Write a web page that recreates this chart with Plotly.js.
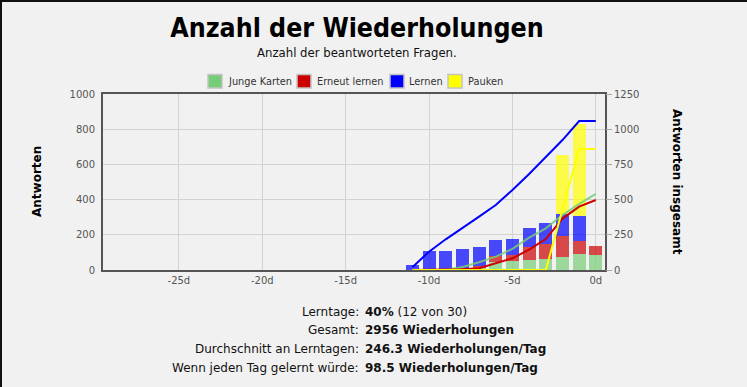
<!DOCTYPE html>
<html>
<head>
<meta charset="utf-8">
<script src="https://cdn.plot.ly/plotly-3.0.1.min.js"></script>
<style>
  html, body { margin: 0; padding: 0; background: #f1f1f1; }
  #wrap { position: relative; width: 747px; height: 387px; }
  #chart { width: 747px; height: 387px; }
  #frame { position: absolute; left: 0; top: 0; width: 747px; height: 387px; box-sizing: border-box;
           border-left: 2px solid #111; border-top: 2px solid #111; pointer-events: none; }
</style>
</head>
<body>
<div id="wrap"><div id="chart"></div><div id="frame"></div></div>
<script>
// ---- data ----
const days = [-11, -10, -9, -8, -7, -6, -5, -4, -3, -2, -1, 0];
const jungeKarten   = [0, 0, 0, 8, 12, 47, 52, 57, 64, 72, 93, 87];
const erneutLernen  = [0, 0, 0, 5, 8, 34, 34, 75, 82, 121, 72, 48];
const lernen        = [28, 110, 108, 106, 109, 89, 89, 108, 123, 123, 144, 0];
const pauken        = [0, 0, 0, 0, 0, 0, 0, 0, 0, 337, 521, 0];
// cumulative totals (right axis)
const cumJunge   = [0, 0, 0, 22, 55, 95, 150, 230, 296, 390, 469, 540];
const cumErneut  = [0, 0, 0, 5, 13, 47, 83, 145, 220, 365, 450, 497];
const cumLernen  = [20, 130, 218, 296, 379, 462, 568, 682, 800, 923, 1058, 1058];
const cumPauken  = [0, 0, 0, 0, 0, 0, 0, 0, 0, 430, 859, 859];

const seriesNames = ['Junge Karten', 'Erneut lernen', 'Lernen', 'Pauken'];
const xTickVals = [-25, -20, -15, -10, -5, 0];
const xTickText = ['-25d', '-20d', '-15d', '-10d', '-5d', '0d'];
const yTickVals = [0, 200, 400, 600, 800, 1000];
const y2TickVals = [0, 250, 500, 750, 1000, 1250];

const statLabels = ['Lerntage:', 'Gesamt:', 'Durchschnitt an Lerntagen:', 'Wenn jeden Tag gelernt würde:'];
const statValues = ['<b>40%</b> (12 von 30)', '<b>2956 Wiederholungen</b>',
                    '<b>246.3 Wiederholungen/Tag</b>', '<b>98.5 Wiederholungen/Tag</b>'];

// ---- styling ----
const solid = ['#77cc77', '#cc0000', '#0000ff', '#ffff00'];
const barFill = ['rgba(119,204,119,0.7)', 'rgba(204,0,0,0.7)', 'rgba(0,0,255,0.7)', 'rgba(255,255,0,0.7)'];
const lineCol = ['rgba(119,204,119,0.85)', '#cc0000', '#0000ff', '#ffff00'];
const barSeries = [jungeKarten, erneutLernen, lernen, pauken];
const cumSeries = [cumJunge, cumErneut, cumLernen, cumPauken];

const FONT = 'DejaVu Sans, sans-serif';
const COND = 'DejaVu Sans Condensed, DejaVu Sans, sans-serif';
const L = 103, PW = 502, B = 270, PH = 176;
const px = v => (v - L) / PW;
const py = v => (B - v) / PH;

const traces = [];
barSeries.forEach((vals, i) => {
  traces.push({
    type: 'bar', x: days, y: vals, width: 0.78, name: seriesNames[i],
    marker: { color: barFill[i], line: { width: 0 } }, hoverinfo: 'x+y'
  });
});
cumSeries.forEach((vals, i) => {
  traces.push({
    type: 'scatter', mode: 'lines', x: days, y: vals, yaxis: 'y2', name: seriesNames[i] + ' (gesamt)',
    line: { color: lineCol[i], width: 2 }
  });
});

const annotations = [
  { text: 'Anzahl der beantworteten Fragen.', xref: 'paper', yref: 'paper', x: px(357), y: py(52),
    xanchor: 'center', yanchor: 'middle', showarrow: false,
    font: { family: COND, size: 13, color: '#111' } },
  { text: '<b>Antworten</b>', xref: 'paper', yref: 'paper', x: px(37), y: 0.5,
    xanchor: 'center', yanchor: 'middle', textangle: -90, showarrow: false,
    font: { family: FONT, size: 12, color: '#000' } },
  { text: '<b>Antworten insgesamt</b>', xref: 'paper', yref: 'paper', x: px(677), y: 0.5,
    xanchor: 'center', yanchor: 'middle', textangle: 90, showarrow: false,
    font: { family: FONT, size: 12, color: '#000' } }
];
const statY = [311.7, 330, 349.3, 368.3];
statLabels.forEach((t, i) => {
  annotations.push({ text: t, xref: 'paper', yref: 'paper', x: px(361), y: py(statY[i]),
    xanchor: 'right', yanchor: 'middle', showarrow: false, font: { family: FONT, size: 12, color: '#111' } });
  annotations.push({ text: statValues[i], xref: 'paper', yref: 'paper', x: px(363), y: py(statY[i]),
    xanchor: 'left', yanchor: 'middle', showarrow: false, font: { family: FONT, size: 12, color: '#111' } });
});

// legend (box + label), positioned like the reference
const legendBoxX = [208, 297, 390, 448];
const legendTextX = [225.5, 314.5, 407, 466];
const shapes = [];
seriesNames.forEach((n, i) => {
  shapes.push({ type: 'rect', xref: 'paper', yref: 'paper',
    x0: px(legendBoxX[i]), x1: px(legendBoxX[i] + 14), y0: py(88), y1: py(74.5),
    fillcolor: solid[i], line: { color: '#c4c4c4', width: 1.5 } });
  annotations.push({ text: n, xref: 'paper', yref: 'paper', x: px(legendTextX[i]), y: py(81.5),
    xanchor: 'left', yanchor: 'middle', showarrow: false, font: { family: FONT, size: 9.8, color: '#333' } });
});

const layout = {
  width: 747, height: 387,
  margin: { l: L, r: 747 - L - PW, t: B - PH, b: 387 - B },
  paper_bgcolor: '#f1f1f1', plot_bgcolor: 'rgba(0,0,0,0)',
  font: { family: FONT, size: 10, color: '#555' },
  title: { text: '<b>Anzahl der Wiederholungen</b>', x: 357 / 747, xanchor: 'center', xref: 'container',
           y: 1 - 27.5 / 387, yanchor: 'middle', yref: 'container',
           font: { family: COND, size: 26.5, color: '#000' } },
  barmode: 'stack', bargap: 0,
  showlegend: false,
  xaxis: { range: [-29.55, 0.55], tickvals: xTickVals, ticktext: xTickText, showgrid: true, gridcolor: '#d2d2d2',
           zeroline: false, showline: true, mirror: true, linecolor: '#555', linewidth: 2,
           ticks: '', tickfont: { size: 10, color: '#555' }, fixedrange: true },
  yaxis: { range: [0, 1000], tickvals: yTickVals, showgrid: true, gridcolor: '#d2d2d2', zeroline: false,
           showline: true, mirror: true, linecolor: '#555', linewidth: 2,
           ticks: 'outside', ticklen: 4, tickcolor: 'rgba(0,0,0,0)', tickfont: { size: 10, color: '#555' } },
  yaxis2: { range: [0, 1250], tickvals: y2TickVals, overlaying: 'y', side: 'right', showgrid: false,
            zeroline: false, showline: false, ticks: 'outside', ticklen: 6, tickcolor: '#aaa',
            tickfont: { size: 10, color: '#555' } },
  shapes: shapes,
  annotations: annotations
};

Plotly.newPlot('chart', traces, layout, { displayModeBar: false, staticPlot: true });
</script>
</body>
</html>
